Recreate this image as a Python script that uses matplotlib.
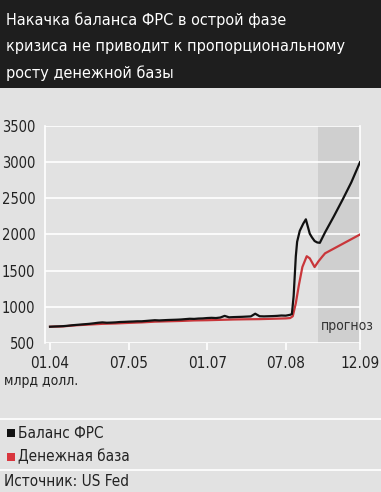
import numpy as np
import matplotlib
matplotlib.use("Agg")
import matplotlib.pyplot as plt
from matplotlib.patches import Rectangle

plt.rcParams['font.family'] = ['DejaVu Sans']
plt.rcParams['font.stretch'] = 'condensed'

# months counted from January 2004
tick_pos = [0, 18, 36, 54, 71]
tick_labels = ["01.04", "07.05", "01.07", "07.08", "12.09"]
y_ticks = [500, 1000, 1500, 2000, 2500, 3000, 3500]
forecast_start = 61.3

# Баланс ФРС, млрд долл.
fed_months = [0, 1, 2, 3, 4, 5, 6, 7, 8, 9, 10, 11, 12, 13, 14, 15, 16, 17, 18,
              19, 20, 21, 22, 23, 24, 25, 26, 27, 28, 29, 30, 31, 32, 33, 34, 35,
              36, 37, 38, 39, 40, 41, 42, 43, 44, 45, 46, 47, 48, 49, 50, 51, 52,
              53, 54, 55, 55.4, 55.8, 56.3, 56.6, 57.2, 58, 58.6, 59, 59.5, 60,
              60.6, 61.2, 61.8, 63, 65, 67, 69, 71]
fed_values = [725, 728, 730, 733, 738, 745, 750, 755, 760, 765, 772, 780, 785,
              780, 782, 785, 790, 792, 795, 797, 800, 800, 805, 810, 815, 812,
              815, 818, 820, 822, 825, 830, 835, 833, 838, 840, 845, 848, 845,
              852, 875, 855, 858, 860, 862, 865, 868, 905, 870, 868, 870, 872,
              875, 880, 878, 890, 900, 1150, 1700, 1900, 2050, 2150, 2210, 2120,
              2010, 1960, 1910, 1890, 1885, 2030, 2250, 2480, 2720, 3000]

# Денежная база, млрд долл.
base_months = [0, 3, 6, 9, 12, 15, 18, 21, 24, 27, 30, 33, 36, 39, 42, 45, 48,
               51, 54, 55, 55.6, 56.3, 57, 57.8, 58.8, 59.5, 60.6, 61.5, 62.3,
               63, 65, 67, 69, 71]
base_values = [725, 730, 745, 755, 765, 770, 778, 785, 795, 800, 805, 812, 815,
               820, 825, 828, 830, 835, 840, 845, 870, 1050, 1300, 1550, 1700,
               1670, 1550, 1630, 1690, 1740, 1805, 1870, 1935, 2000]

bg = "#e2e2e2"
fig = plt.figure(figsize=(3.81, 4.92), dpi=100, facecolor=bg)

# dark title band
fig.add_artist(Rectangle((0, 1 - 88 / 492), 1, 88 / 492, transform=fig.transFigure,
                         facecolor="#1e1e1e", edgecolor="none", zorder=0))
title_lines = ["Накачка баланса ФРС в острой фазе",
               "кризиса не приводит к пропорциональному",
               "росту денежной базы"]
for i, line in enumerate(title_lines):
    fig.text(6 / 381, 1 - (20 + 26.5 * i) / 492, line, color="white", fontsize=11.6,
             va="center", ha="left")

ax = fig.add_axes([45 / 381, 1 - 343 / 492, 315 / 381, 217 / 492])
ax.set_facecolor(bg)
ax.axvspan(forecast_start, 71, color="#cfcfcf", zorder=0, lw=0)
for yv in y_ticks:
    ax.axhline(yv, color="white", lw=1.2, zorder=1)

ax.plot(base_months, base_values, color="#c9363a", lw=1.6, zorder=3)
ax.plot(fed_months, fed_values, color="#111111", lw=1.6, zorder=4)

ax.set_xlim(-1.15, 71)
ax.set_ylim(500, 3500)
ax.set_xticks(tick_pos)
ax.set_xticklabels(tick_labels)
ax.set_yticks(y_ticks)
ax.tick_params(axis="x", colors="white", length=5, width=1.2, labelcolor="#222222",
               labelsize=11, pad=4)
ax.tick_params(axis="y", length=0, labelcolor="#222222", labelsize=10.5, pad=7)
for side in ["top", "bottom"]:
    ax.spines[side].set_visible(False)
for side in ["left", "right"]:
    ax.spines[side].set_color("white")
    ax.spines[side].set_linewidth(1.2)

ax.text(68.2, 730, "прогноз", ha="center", va="center", fontsize=10, color="#333333",
        clip_on=False)

fig.text(4 / 381, 1 - 381 / 492, "млрд долл.", fontsize=10, color="#222222",
         va="center", ha="left")

# separators and legend
for yp in [419, 470]:
    fig.add_artist(plt.Line2D([0, 1], [1 - yp / 492] * 2, color="white", lw=1.2,
                              transform=fig.transFigure))
fig.add_artist(Rectangle((7 / 381, 1 - 437 / 492), 8 / 381, 8 / 492,
                         transform=fig.transFigure, facecolor="#111111", edgecolor="none"))
fig.add_artist(Rectangle((7 / 381, 1 - 461 / 492), 8 / 381, 8 / 492,
                         transform=fig.transFigure, facecolor="#d9363e", edgecolor="none"))
fig.text(18 / 381, 1 - 433 / 492, "Баланс ФРС", fontsize=11, color="#222222",
         va="center", ha="left")
fig.text(18 / 381, 1 - 457 / 492, "Денежная база", fontsize=11, color="#222222",
         va="center", ha="left")
fig.text(4 / 381, 1 - 482 / 492, "Источник: US Fed", fontsize=11, color="#222222",
         va="center", ha="left")

fig.savefig("out.png", dpi=100, facecolor=bg)
